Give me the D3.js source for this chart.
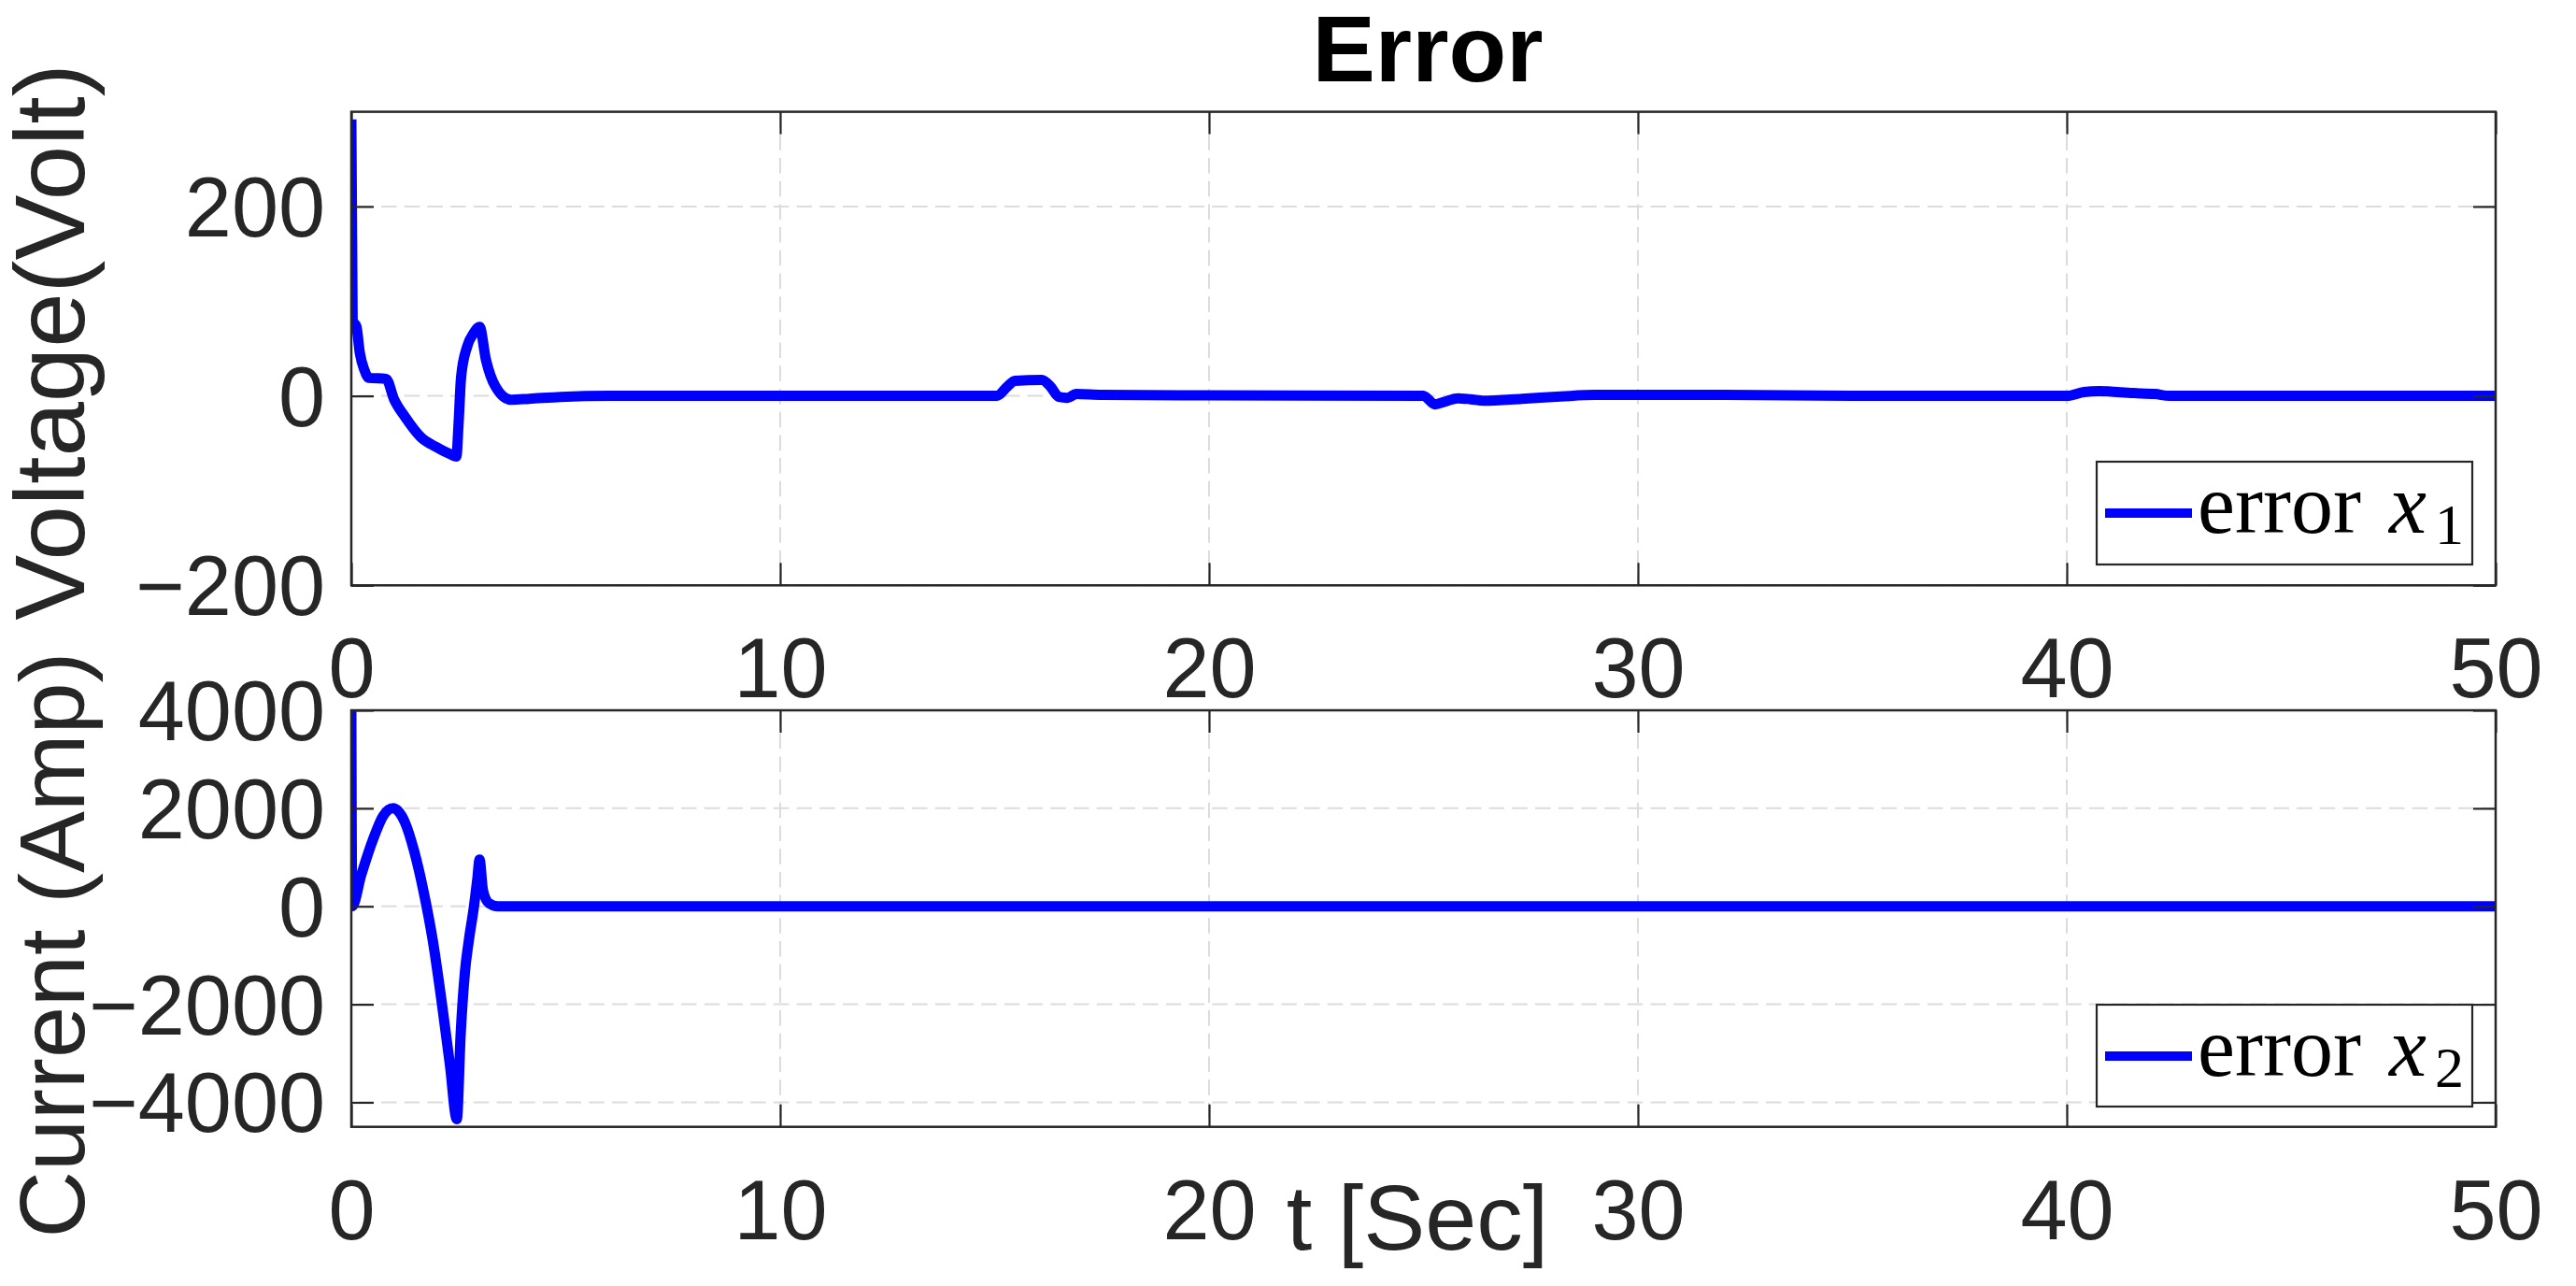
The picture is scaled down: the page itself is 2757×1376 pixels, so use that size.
<!DOCTYPE html>
<html>
<head>
<meta charset="utf-8">
<script src="https://cdn.jsdelivr.net/npm/d3@7"></script>
<style>
  html, body { margin: 0; padding: 0; background: #ffffff; }
  svg { display: block; }
</style>
</head>
<body>
<svg id="chart" width="2757" height="1376"></svg>
<script>
// ---------------- DATA ----------------
const titleText = "Error";
const xTicks = [0, 10, 20, 30, 40, 50];
const yTicksVoltage = [-200, 0, 200];
const yTicksCurrent = [-4000, -2000, 0, 2000, 4000];

// error x1 (Voltage)
const tX1 = [0, 0.03, 0.12, 0.2, 0.3, 0.41, 0.81, 1.0, 1.25, 1.61, 1.98, 2.33, 2.45, 2.5, 2.56, 2.7, 2.85, 2.99, 3.14, 3.36, 3.72, 4.15, 4.88, 6,
  15.05, 15.3, 15.47, 16.1, 16.3, 16.5, 16.7, 16.9, 17.5, 20,
  25.0, 25.27, 25.5, 25.8, 26.1, 26.4, 27.3, 28.2, 29, 32, 35,
  40, 40.4, 40.75, 41.55, 42.06, 42.4, 43, 50];
const errX1 = [292, 80, 73, 45, 28, 19, 18, -4, -22, -43, -54, -62, -64, -30, 20, 52, 66, 73, 38, 10, -4, -3, -1, 0,
  0, 10, 16, 17, 10, -1, -2, 2, 1, 0.5,
  0, -9, -6, -2.5, -3.5, -5, -3, -0.6, 1, 1, 0,
  0, 4, 5, 3, 2, 0, 0, 0];

// error x2 (Current)
const tX2 = [0, 0.02, 0.23, 0.52, 0.74, 0.97, 1.25, 1.46, 1.68, 1.9, 2.11, 2.3, 2.46, 2.55, 2.65, 2.74, 2.85, 2.94, 2.99, 3.07, 3.21, 3.42, 10, 20, 30, 40, 50];
const errX2 = [4000, 0, 634, 1396, 1840, 2000, 1714, 1143, 324, -699, -1968, -3238, -4343, -2603, -1333, -699, -63, 571, 952, 324, 63, 0, 0, 0, 0, 0, 0];

const yLabels = ["Voltage(Volt)", "Current (Amp)"];
const xLabelText = "t [Sec]";
const legendLabels = [["error ", "x", "1"], ["error ", "x", "2"]];
const yDomains = [[-200, 300], [-4500, 4000]];

// ---------------- LAYOUT ----------------
const W = 2757, H = 1376;
const left = 376, right = 2671;
const panels = [
  { top: 119.6, bottom: 626.3, t: tX1, v: errX1, ticks: yTicksVoltage, domain: yDomains[0], label: yLabels[0], labelY: 366, labelSize: 105,
    legend: { x: 2244, y: 494, w: 402, h: 110, lineY: 549, textY: 569.5 }, leg: legendLabels[0] },
  { top: 760, bottom: 1205.7, t: tX2, v: errX2, ticks: yTicksCurrent, domain: yDomains[1], label: yLabels[1], labelY: 1011, labelSize: 99,
    legend: { x: 2244, y: 1075, w: 402, h: 109, lineY: 1130, textY: 1150.7 }, leg: legendLabels[1] }
];
const axisColor = "#262626";
const gridColor = "#dcdcdc";
const lineColor = "#0000ff";
const sans = "'Liberation Sans', Arial, Helvetica, sans-serif";
const serif = "'Liberation Serif', 'Times New Roman', serif";
const tickFont = 90, labelFont = 99;

const svg = d3.select("#chart");
svg.append("rect").attr("width", W).attr("height", H).attr("fill", "#fff");

const x = d3.scaleLinear().domain([0, 50]).range([left, right]);
const fmt = d3.format("");

panels.forEach((p, i) => {
  const y = d3.scaleLinear().domain(p.domain).range([p.bottom, p.top]);
  const g = svg.append("g");

  // grid
  const grid = g.append("g");
  grid.selectAll("line.vg").data(xTicks).join("line")
    .attr("x1", d => x(d)).attr("x2", d => x(d))
    .attr("y1", p.top).attr("y2", p.bottom)
    .attr("stroke", gridColor).attr("stroke-width", 2)
    .attr("stroke-dasharray", "16.5,8.2");
  grid.selectAll("line.hg").data(p.ticks).join("line")
    .attr("x1", left).attr("x2", right)
    .attr("y1", d => y(d)).attr("y2", d => y(d))
    .attr("stroke", gridColor).attr("stroke-width", 2)
    .attr("stroke-dasharray", "16.5,8.2").attr("stroke-dashoffset", 17.4);

  // clip
  const clipId = "clip" + i;
  svg.append("defs").append("clipPath").attr("id", clipId)
    .append("rect").attr("x", left).attr("y", p.top).attr("width", right - left).attr("height", p.bottom - p.top);

  // data line
  const data = p.t.map((t, k) => [t, p.v[k]]);
  const line = d3.line().x(d => x(d[0])).y(d => y(d[1])).curve(d3.curveMonotoneX);
  g.append("path").datum(data)
    .attr("clip-path", `url(#${clipId})`)
    .attr("d", line)
    .attr("fill", "none").attr("stroke", lineColor)
    .attr("stroke-width", 11).attr("stroke-linejoin", "round").attr("stroke-linecap", "butt");

  // axes (ticks inward)
  const styleAxis = sel => {
    sel.select(".domain").remove();
    sel.selectAll(".tick line").attr("stroke", axisColor).attr("stroke-width", 2.2);
    sel.selectAll(".tick text").attr("fill", axisColor).style("font-family", sans).style("font-size", tickFont + "px");
  };
  const ax = g.append("g").attr("transform", `translate(0,${p.bottom})`)
    .call(d3.axisBottom(x).tickValues(xTicks).tickSize(-24).tickPadding(0).tickFormat(fmt));
  styleAxis(ax);
  ax.selectAll(".tick text").attr("y", 120).attr("dy", 0);

  const axTop = g.append("g").attr("transform", `translate(0,${p.top})`)
    .call(d3.axisTop(x).tickValues(xTicks).tickSize(-24).tickFormat(""));
  styleAxis(axTop);

  const ay = g.append("g").attr("transform", `translate(${left},0)`)
    .call(d3.axisLeft(y).tickValues(p.ticks).tickSize(-24).tickPadding(0).tickFormat(fmt));
  styleAxis(ay);
  ay.selectAll(".tick text").attr("x", -28).attr("dy", "0.35em");

  const ayR = g.append("g").attr("transform", `translate(${right},0)`)
    .call(d3.axisRight(y).tickValues(p.ticks).tickSize(-24).tickFormat(""));
  styleAxis(ayR);

  // box
  g.append("rect").attr("x", left).attr("y", p.top)
    .attr("width", right - left).attr("height", p.bottom - p.top)
    .attr("fill", "none").attr("stroke", axisColor).attr("stroke-width", 2.5);

  // y label
  svg.append("text")
    .attr("transform", `translate(90,${p.labelY}) rotate(-90)`)
    .attr("text-anchor", "middle")
    .attr("fill", axisColor)
    .style("font-family", sans).style("font-size", p.labelSize + "px")
    .text(p.label);

  // legend
  const L = p.legend;
  const lg = svg.append("g");
  lg.append("rect").attr("x", L.x).attr("y", L.y).attr("width", L.w).attr("height", L.h)
    .attr("fill", "#fff").attr("stroke", axisColor).attr("stroke-width", 2.2);
  lg.append("line").attr("x1", L.x + 9).attr("x2", L.x + 102).attr("y1", L.lineY).attr("y2", L.lineY)
    .attr("stroke", lineColor).attr("stroke-width", 10);
  const lt = lg.append("text").attr("y", L.textY).attr("fill", "#000")
    .style("font-family", serif).style("font-size", "90px");
  lt.append("tspan").attr("x", L.x + 108).text(p.leg[0]);
  lt.append("tspan").attr("x", L.x + 313).style("font-style", "italic").text(p.leg[1]);
  lt.append("tspan").attr("x", L.x + 362).attr("dy", 12).style("font-size", "62px").text(p.leg[2]);
});

// title
svg.append("text").attr("x", 1528).attr("y", 87).attr("text-anchor", "middle")
  .attr("fill", "#000").style("font-family", sans).style("font-weight", "bold").style("font-size", "101px")
  .text(titleText);

// x label
svg.append("text").attr("x", 1517).attr("y", 1337).attr("text-anchor", "middle")
  .attr("fill", axisColor).style("font-family", sans).style("font-size", labelFont + "px")
  .text(xLabelText);
</script>
</body>
</html>
